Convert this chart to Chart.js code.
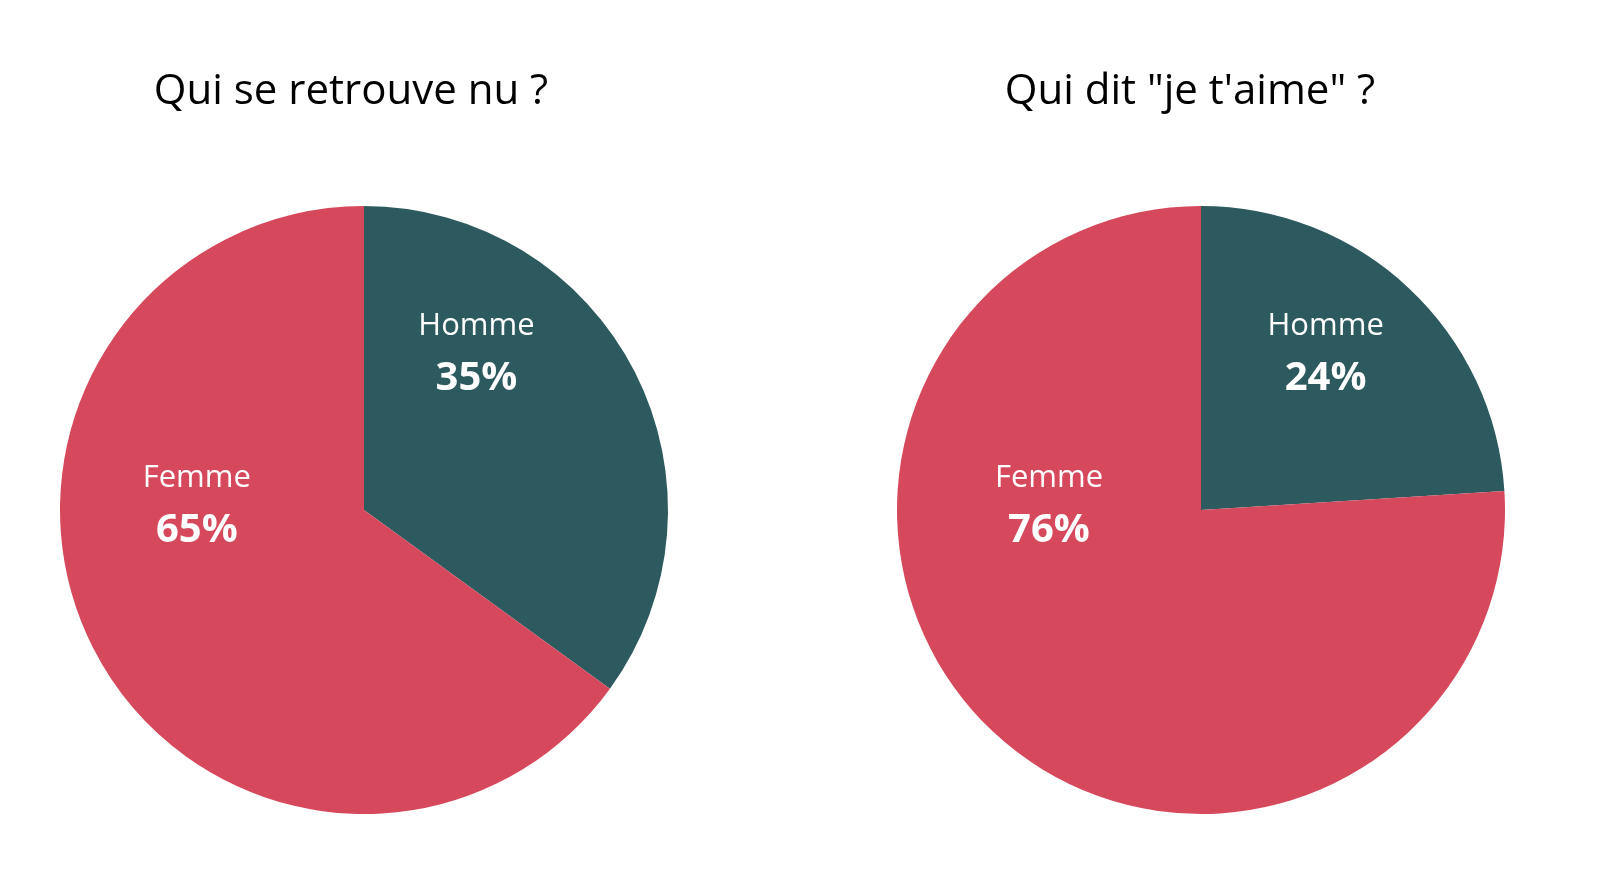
<!DOCTYPE html>
<html>
<head>
<meta charset="utf-8">
<script src="https://cdn.jsdelivr.net/npm/chart.js@4"></script>
<style>
  html, body { margin: 0; padding: 0; background: #ffffff; }
  #wrap { position: relative; width: 1604px; height: 890px; }
  .c { position: absolute; top: 0; width: 802px; height: 890px; }
</style>
</head>
<body>
<div id="wrap">
  <div class="c" style="left:0"><canvas id="c1"></canvas></div>
  <div class="c" style="left:802px"><canvas id="c2"></canvas></div>
</div>
<script>
const categories = ["Homme", "Femme"];
const titles = ["Qui se retrouve nu ?", "Qui dit \"je t'aime\" ?"];
const valuesNu = [35, 65];
const valuesJeTaime = [24, 76];
const colors = ["#2C5A5E", "#D6485C"];

const FONT = "'Open Sans', Lato, sans-serif";

// label placement as fraction of radius from pie centre (x, y)
const labelOffsets = [
  [[0.37, -0.52], [-0.55, -0.02]],
  [[0.41, -0.52], [-0.50, -0.02]]
];
const titleCenters = [351, 1190 - 802];

const labelPlugin = {
  id: 'pieLabels',
  afterDatasetsDraw(chart, args, opts) {
    const ctx = chart.ctx;
    const meta = chart.getDatasetMeta(0);
    const ds = chart.data.datasets[0];
    const total = ds.data.reduce((a, b) => a + b, 0);
    ctx.save();
    ctx.fillStyle = '#ffffff';
    ctx.textAlign = 'center';
    ctx.textBaseline = 'middle';
    meta.data.forEach((arc, i) => {
      const r = arc.outerRadius;
      const off = opts.offsets[i];
      const x = arc.x + off[0] * r;
      const y = arc.y + off[1] * r;
      ctx.font = "400 31px " + FONT;
      ctx.fillText(chart.data.labels[i], x, y - 26);
      ctx.font = "700 40px " + FONT;
      ctx.fillText(Math.round(ds.data[i] / total * 100) + "%", x, y + 27);
    });
    // title
    ctx.fillStyle = '#000000';
    ctx.font = "400 42px " + FONT;
    ctx.fillText(opts.title, opts.titleX, 92);
    ctx.restore();
  }
};

function makePie(id, values, idx) {
  new Chart(document.getElementById(id), {
    type: 'pie',
    data: {
      labels: categories,
      datasets: [{
        data: values,
        backgroundColor: colors,
        borderWidth: 0,
        hoverOffset: 0
      }]
    },
    options: {
      responsive: true,
      maintainAspectRatio: false,
      animation: false,
      layout: {
        padding: idx === 0
          ? { left: 60, right: 134, top: 206, bottom: 76 }
          : { left: 95, right: 99, top: 206, bottom: 76 }
      },
      plugins: {
        legend: { display: false },
        tooltip: { enabled: false },
        title: { display: false },
        pieLabels: {
          offsets: labelOffsets[idx],
          title: titles[idx],
          titleX: titleCenters[idx]
        }
      }
    },
    plugins: [labelPlugin]
  });
}

makePie('c1', valuesNu, 0);
makePie('c2', valuesJeTaime, 1);
</script>
</body>
</html>
